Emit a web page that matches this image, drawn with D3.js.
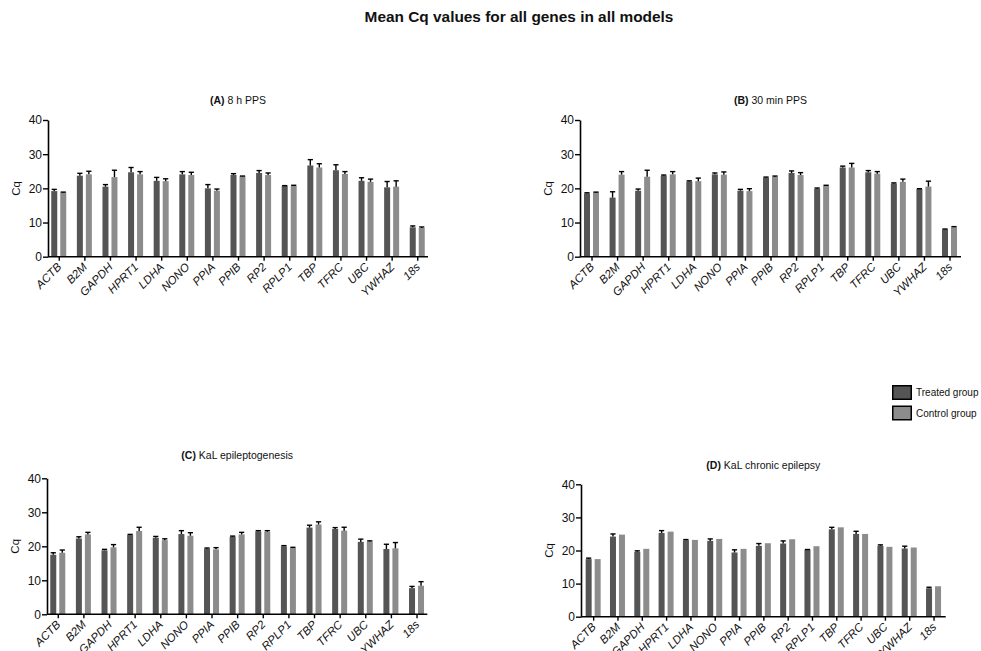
<!DOCTYPE html>
<html>
<head>
<meta charset="utf-8">
<script src="https://cdn.jsdelivr.net/npm/d3@7"></script>
<style>
  html, body { margin: 0; padding: 0; background: #fff; }
  svg { display: block; font-family: "Liberation Sans", Arial, Helvetica, sans-serif; }
</style>
</head>
<body>
<svg id="chart" width="981" height="651"></svg>
<script>
// Reference genes (x categories)
const genes = ["ACTB", "B2M", "GAPDH", "HPRT1", "LDHA", "NONO", "PPIA", "PPIB", "RP2", "RPLP1", "TBP", "TFRC", "UBC", "YWHAZ", "18s"];
const groups = ["Treated group", "Control group"];
const yTicks = [0, 10, 20, 30, 40];

// (A) 8 h PPS
const aTreated = [19.2, 23.7, 20.5, 24.7, 22.2, 24.1, 20.0, 23.9, 24.5, 20.7, 26.7, 25.3, 22.2, 20.3, 8.6];
const aTreatedErr = [0.5, 0.7, 0.6, 1.4, 1.0, 0.8, 1.1, 0.4, 0.7, 0.1, 1.7, 1.6, 0.9, 1.7, 0.4];
const aControl = [18.8, 24.1, 23.3, 24.1, 22.1, 23.9, 19.3, 23.5, 23.9, 20.7, 26.1, 24.2, 21.9, 20.5, 8.4];
const aControlErr = [0.1, 0.9, 2.0, 0.8, 0.7, 0.8, 0.5, 0.1, 0.6, 0.2, 1.1, 0.7, 0.8, 1.7, 0.3];

// (B) 30 min PPS
const bTreated = [18.5, 17.3, 19.3, 23.7, 22.0, 24.1, 19.3, 23.1, 24.5, 19.9, 26.1, 24.7, 21.4, 19.8, 8.0];
const bTreatedErr = [0.2, 1.7, 0.5, 0.2, 0.2, 0.4, 0.4, 0.2, 0.6, 0.2, 0.4, 0.5, 0.2, 0.1, 0.1];
const bControl = [18.8, 24.0, 23.4, 24.1, 22.1, 24.0, 19.2, 23.4, 23.9, 20.8, 26.1, 24.3, 21.9, 20.5, 8.6];
const bControlErr = [0.1, 0.9, 1.9, 0.8, 0.9, 0.8, 0.7, 0.2, 0.7, 0.1, 1.2, 0.6, 0.8, 1.6, 0.2];

// (C) KaL epileptogenesis
const cTreated = [17.5, 22.3, 18.8, 23.3, 22.5, 23.6, 19.3, 22.8, 24.4, 20.0, 25.5, 25.1, 21.3, 19.2, 7.7];
const cTreatedErr = [0.6, 0.5, 0.3, 0.2, 0.4, 1.0, 0.2, 0.2, 0.2, 0.2, 0.7, 0.4, 0.8, 1.4, 0.5];
const cControl = [18.1, 23.5, 19.7, 24.5, 21.8, 23.1, 19.1, 23.5, 24.3, 19.5, 26.4, 24.6, 21.4, 19.4, 8.4];
const cControlErr = [0.8, 0.6, 0.8, 1.1, 0.4, 0.9, 0.5, 0.6, 0.3, 0.2, 0.8, 1.0, 0.2, 1.7, 1.2];

// (D) KaL chronic epilepsy
const dTreated = [17.4, 24.2, 19.6, 25.3, 23.1, 22.9, 19.4, 21.4, 22.1, 20.2, 26.4, 25.0, 21.4, 20.6, 8.6];
const dTreatedErr = [0.3, 0.8, 0.3, 0.7, 0.2, 0.6, 0.8, 0.7, 0.8, 0.1, 0.6, 0.8, 0.3, 0.7, 0.3];
const dControl = [17.4, 24.8, 20.5, 25.7, 23.2, 23.5, 20.5, 22.2, 23.4, 21.3, 27.0, 25.0, 21.1, 20.9, 9.2];
const dControlErr = [0, 0, 0, 0, 0, 0, 0, 0, 0, 0, 0, 0, 0, 0, 0];

const colors = { "Treated group": "#555555", "Control group": "#8c8c8c" };

const panels = [
  { label: "(A)", name: " 8 h PPS", x0: 48, x1: 428, yTop: 120, yBottom: 256.7, pad: 0.42, titleY: 103.5,
    treated: aTreated, treatedErr: aTreatedErr, control: aControl, controlErr: aControlErr },
  { label: "(B)", name: " 30 min PPS", x0: 580, x1: 961, yTop: 120, yBottom: 256.7, pad: 0.45, titleY: 103.5,
    treated: bTreated, treatedErr: bTreatedErr, control: bControl, controlErr: bControlErr },
  { label: "(C)", name: " KaL epileptogenesis", x0: 47, x1: 427.3, yTop: 478.3, yBottom: 614.3, pad: 0.42, titleY: 458.5,
    treated: cTreated, treatedErr: cTreatedErr, control: cControl, controlErr: cControlErr },
  { label: "(D)", name: " KaL chronic epilepsy", x0: 581, x1: 945.7, yTop: 484.3, yBottom: 616.7, pad: 0.5, titleY: 468.5,
    treated: dTreated, treatedErr: dTreatedErr, control: dControl, controlErr: dControlErr }
];

const svg = d3.select("#chart");

svg.append("text")
  .attr("x", 519).attr("y", 22)
  .attr("text-anchor", "middle")
  .attr("font-size", 15.4).attr("font-weight", "bold")
  .attr("fill", "#111")
  .text("Mean Cq values for all genes in all models");

panels.forEach(p => {
  const g = svg.append("g");

  const x = d3.scalePoint().domain(genes).range([p.x0, p.x1]).padding(p.pad);
  const xSub = d3.scaleBand().domain(groups).range([-7.5, 7.5]).paddingInner(1 / 3);
  const y = d3.scaleLinear().domain([0, 40]).range([p.yBottom, p.yTop]);

  const rows = [];
  genes.forEach((gene, i) => {
    rows.push({ gene, group: groups[0], value: p.treated[i], err: p.treatedErr[i] });
    rows.push({ gene, group: groups[1], value: p.control[i], err: p.controlErr[i] });
  });

  // bars
  g.selectAll("rect.bar").data(rows).join("rect")
    .attr("class", "bar")
    .attr("x", d => x(d.gene) + xSub(d.group))
    .attr("width", xSub.bandwidth())
    .attr("y", d => y(d.value))
    .attr("height", d => y(0) - y(d.value))
    .attr("fill", d => colors[d.group]);

  // upper error bars
  const withErr = rows.filter(d => d.err > 0);
  const cx = d => x(d.gene) + xSub(d.group) + xSub.bandwidth() / 2;
  g.selectAll("line.err").data(withErr).join("line")
    .attr("x1", cx).attr("x2", cx)
    .attr("y1", d => y(d.value)).attr("y2", d => y(d.value + d.err))
    .attr("stroke", "#000").attr("stroke-width", 1.4);
  g.selectAll("line.cap").data(withErr).join("line")
    .attr("x1", d => cx(d) - 2.6).attr("x2", d => cx(d) + 2.6)
    .attr("y1", d => y(d.value + d.err)).attr("y2", d => y(d.value + d.err))
    .attr("stroke", "#000").attr("stroke-width", 1.4);

  // y axis
  const yAxis = g.append("g")
    .attr("transform", `translate(${p.x0},0)`)
    .call(d3.axisLeft(y).tickValues(yTicks).tickSize(5).tickPadding(1).tickSizeOuter(0));
  yAxis.select(".domain").attr("stroke", "#000").attr("stroke-width", 1.6);
  yAxis.selectAll(".tick line").attr("stroke", "#000").attr("stroke-width", 1.4);
  yAxis.selectAll(".tick text")
    .attr("font-family", "'Liberation Sans', Arial, sans-serif")
    .attr("font-size", 12).attr("fill", "#111");

  // x axis
  const xAxis = g.append("g")
    .attr("transform", `translate(0,${p.yBottom})`)
    .call(d3.axisBottom(x).tickSize(4).tickSizeOuter(0).tickFormat(() => ""));
  xAxis.select(".domain").attr("d", `M${p.x0},0H${p.x1}`)
    .attr("stroke", "#000").attr("stroke-width", 1.6);
  xAxis.selectAll(".tick line").attr("stroke", "#000").attr("stroke-width", 1.4);

  g.selectAll("text.xlab").data(genes).join("text")
    .attr("class", "xlab")
    .attr("transform", d => `translate(${x(d) + 3.5},${p.yBottom + 11}) rotate(-45)`)
    .attr("text-anchor", "end")
    .attr("font-size", 11.5).attr("font-style", "italic")
    .attr("fill", "#111")
    .text(d => d);

  // y axis title
  g.append("text")
    .attr("transform", `translate(${p.x0 - 28},${(p.yTop + p.yBottom) / 2}) rotate(-90)`)
    .attr("text-anchor", "middle")
    .attr("font-size", 11.5).attr("fill", "#111")
    .text("Cq");

  // panel title
  const t = g.append("text")
    .attr("x", (p.x0 + p.x1) / 2).attr("y", p.titleY)
    .attr("text-anchor", "middle")
    .attr("font-size", 10.5).attr("fill", "#111");
  t.append("tspan").attr("font-weight", "bold").text(p.label);
  t.append("tspan").text(p.name);
});

// legend
const legend = svg.append("g").attr("transform", "translate(892,385)");
groups.forEach((grp, i) => {
  const row = legend.append("g").attr("transform", `translate(0,${i * 20.5})`);
  row.append("rect")
    .attr("x", 0.75).attr("y", 0.75).attr("width", 18.5).attr("height", 13.5)
    .attr("fill", colors[grp]).attr("stroke", "#000").attr("stroke-width", 1.5);
  row.append("text")
    .attr("x", 24).attr("y", 7.5).attr("dy", "0.35em")
    .attr("font-size", 10).attr("fill", "#111")
    .text(grp);
});
</script>
</body>
</html>
